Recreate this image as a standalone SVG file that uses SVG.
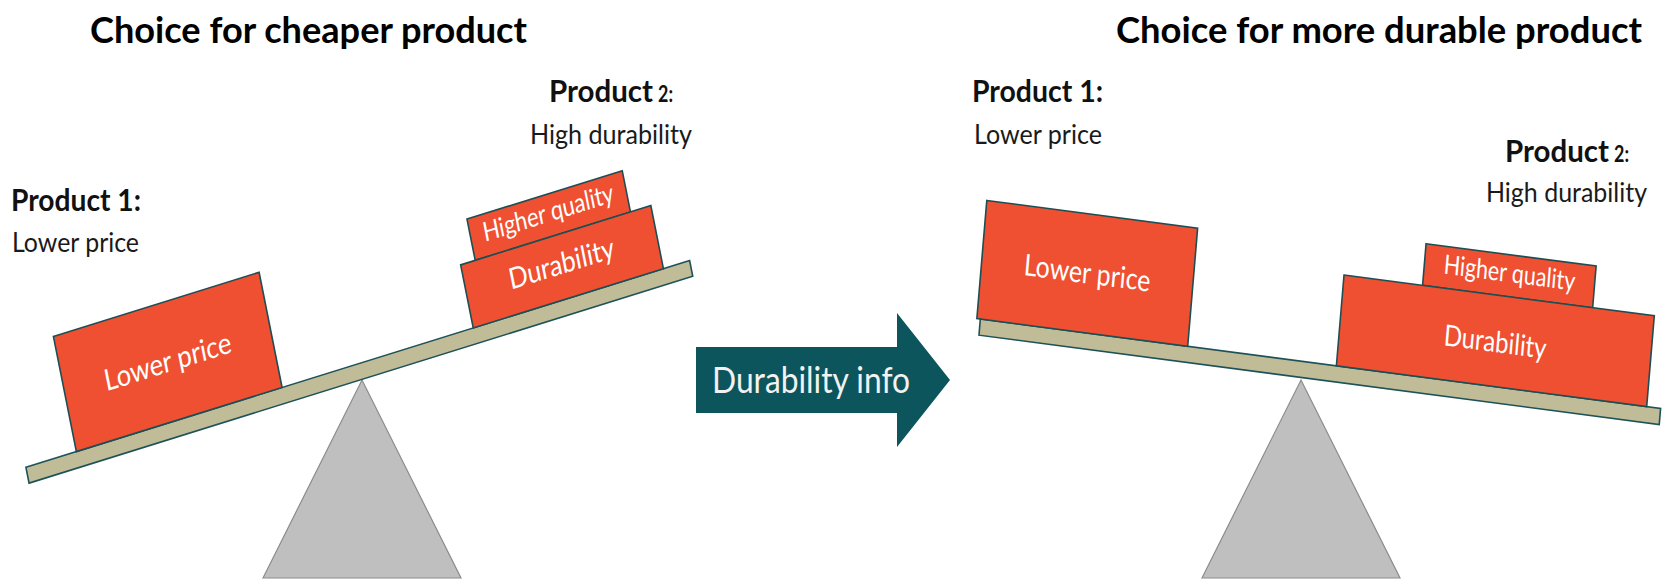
<svg xmlns="http://www.w3.org/2000/svg" width="1662" height="580" viewBox="0 0 1662 580">
  <style>
    text { font-family: Lato, "Open Sans", "Liberation Sans", sans-serif; }
    .title { font-weight: 700; font-size: 36px; fill: #000; }
    .head { font-weight: 700; font-size: 30px; fill: #111; }
    .num { font-weight: 700; font-size: 22px; fill: #111; }
    .sub { font-weight: 400; font-size: 27px; fill: #1a1a1a; }
    .box { fill: #ef5031; stroke: #1d4e54; stroke-width: 1.6; vector-effect: non-scaling-stroke; }
    .beam { fill: #c0bc98; stroke: #1d5258; stroke-width: 1.6; vector-effect: non-scaling-stroke; }
    .fulcrum { fill: #bfbfbf; stroke: #8c8c8c; stroke-width: 1.2; }
    .boxtext { fill: #fff; text-anchor: middle; font-weight: 400; }
    .arrow { fill: #0c555d; }
    .arrowtext { fill: #f2f2f2; font-size: 37px; font-weight: 400; }
  </style>

  <!-- headings -->
  <g id="title-left">
    <text class="title" x="90" y="43" textLength="437" lengthAdjust="spacingAndGlyphs">Choice for cheaper product</text>
  </g>
  <g id="title-right">
    <text class="title" x="1116" y="43" textLength="526" lengthAdjust="spacingAndGlyphs">Choice for more durable product</text>
  </g>

  <!-- product captions, left scale -->
  <g id="label-left-p1">
    <text class="head" x="11" y="211" textLength="130" lengthAdjust="spacingAndGlyphs">Product 1:</text>
    <text class="sub" x="12" y="252" textLength="127" lengthAdjust="spacingAndGlyphs">Lower price</text>
  </g>
  <g id="label-left-p2">
    <text class="head" x="549" y="102" textLength="104" lengthAdjust="spacingAndGlyphs">Product</text>
    <text class="num" x="658" y="102" textLength="15" lengthAdjust="spacingAndGlyphs">2:</text>
    <text class="sub" x="530" y="144" textLength="162" lengthAdjust="spacingAndGlyphs">High durability</text>
  </g>

  <!-- product captions, right scale -->
  <g id="label-right-p1">
    <text class="head" x="972" y="102" textLength="131" lengthAdjust="spacingAndGlyphs">Product 1:</text>
    <text class="sub" x="974" y="144" textLength="128" lengthAdjust="spacingAndGlyphs">Lower price</text>
  </g>
  <g id="label-right-p2">
    <text class="head" x="1505" y="162" textLength="104" lengthAdjust="spacingAndGlyphs">Product</text>
    <text class="num" x="1614" y="162" textLength="15" lengthAdjust="spacingAndGlyphs">2:</text>
    <text class="sub" x="1486" y="202" textLength="161" lengthAdjust="spacingAndGlyphs">High durability</text>
  </g>

  <!-- fulcrums -->
  <g id="fulcrum-left">
    <polygon class="fulcrum" points="263,578 362,380 461,578"/>
  </g>
  <g id="fulcrum-right">
    <polygon class="fulcrum" points="1202,578 1301,380 1400,578"/>
  </g>

  <!-- left scale: tipped down on the cheap side -->
  <g id="scale-left" transform="scale(1,1.25) translate(362,304) rotate(-14)">
    <rect id="beam-left" class="beam" x="-343" y="-13.5" width="684" height="13"/>
    <g id="left-lower-price">
      <rect class="box" x="-291" y="-108.5" width="212" height="95"/>
      <text class="boxtext" x="-185" y="-53" font-size="24" textLength="130" lengthAdjust="spacingAndGlyphs">Lower price</text>
    </g>
    <g id="left-higher-quality">
      <rect class="box" x="133" y="-99.5" width="160" height="34"/>
      <text class="boxtext" x="213" y="-77.5" font-size="21.5" textLength="134" lengthAdjust="spacingAndGlyphs">Higher quality</text>
    </g>
    <g id="left-durability">
      <rect class="box" x="118" y="-65.5" width="196" height="52"/>
      <text class="boxtext" x="216" y="-34" font-size="23.5" textLength="108" lengthAdjust="spacingAndGlyphs">Durability</text>
    </g>
  </g>

  <!-- right scale: tipped down on the durable side -->
  <g id="scale-right" transform="scale(1,1.25) translate(1301,304) rotate(6)">
    <rect id="beam-right" class="beam" x="-324" y="-15" width="684" height="13"/>
    <g id="right-lower-price">
      <rect class="box" x="-327.5" y="-110" width="212" height="95"/>
      <text class="boxtext" x="-221.5" y="-54.5" font-size="24" textLength="127" lengthAdjust="spacingAndGlyphs">Lower price</text>
    </g>
    <g id="right-higher-quality">
      <rect class="box" x="113" y="-121.5" width="171" height="33.5"/>
      <text class="boxtext" x="198.5" y="-99.7" font-size="21.5" textLength="132" lengthAdjust="spacingAndGlyphs">Higher quality</text>
    </g>
    <g id="right-durability">
      <rect class="box" x="34" y="-88" width="312" height="73"/>
      <text class="boxtext" x="190" y="-42.5" font-size="23.5" textLength="103" lengthAdjust="spacingAndGlyphs">Durability</text>
    </g>
  </g>

  <!-- transition arrow between the two scales -->
  <g id="connectors">
    <polygon class="arrow" points="696,347 897,347 897,313 950,380 897,447 897,413 696,413"/>
    <text class="arrowtext" x="712" y="393" textLength="198" lengthAdjust="spacingAndGlyphs">Durability info</text>
  </g>
</svg>
